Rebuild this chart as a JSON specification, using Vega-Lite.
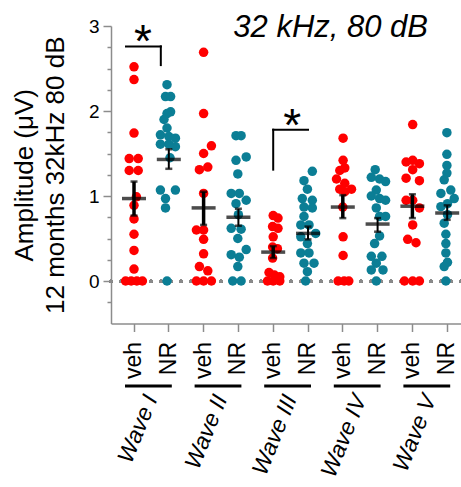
{
  "$schema": "https://vega.github.io/schema/vega-lite/v6.json",
  "width": 350,
  "height": 297.5,
  "autosize": "none",
  "padding": {"left": 111, "top": 26, "right": 0, "bottom": 163.5},
  "background": "white",
  "config": {"view": {"stroke": null}, "font": "Liberation Sans"},
  "title": {"text": "32 kHz, 80 dB", "font": "Liberation Sans", "fontStyle": "italic", "fontWeight": "normal", "fontSize": 31, "color": "black", "anchor": "end", "frame": "group", "baseline": "alphabetic", "offset": -51, "dx": -33},
  "datasets": {
    "dots": [
      {"col": "I-veh", "grp": "veh", "v": 2.52, "dx": 0},
      {"col": "I-veh", "grp": "veh", "v": 2.37, "dx": 0},
      {"col": "I-veh", "grp": "veh", "v": 1.74, "dx": 0},
      {"col": "I-veh", "grp": "veh", "v": 1.44, "dx": -0.8},
      {"col": "I-veh", "grp": "veh", "v": 1.44, "dx": 0.7},
      {"col": "I-veh", "grp": "veh", "v": 1.3, "dx": -0.8},
      {"col": "I-veh", "grp": "veh", "v": 1.3, "dx": 0.7},
      {"col": "I-veh", "grp": "veh", "v": 0.99, "dx": 0.4},
      {"col": "I-veh", "grp": "veh", "v": 0.89, "dx": 0},
      {"col": "I-veh", "grp": "veh", "v": 0.73, "dx": 0},
      {"col": "I-veh", "grp": "veh", "v": 0.55, "dx": 0},
      {"col": "I-veh", "grp": "veh", "v": 0.36, "dx": 0},
      {"col": "I-veh", "grp": "veh", "v": 0.14, "dx": 0},
      {"col": "I-veh", "grp": "veh", "v": 0, "dx": -1.4},
      {"col": "I-veh", "grp": "veh", "v": 0, "dx": -0.47},
      {"col": "I-veh", "grp": "veh", "v": 0, "dx": 0.47},
      {"col": "I-veh", "grp": "veh", "v": 0, "dx": 1.4},
      {"col": "I-NR", "grp": "NR", "v": 2.31, "dx": -0.3},
      {"col": "I-NR", "grp": "NR", "v": 2.17, "dx": -0.55},
      {"col": "I-NR", "grp": "NR", "v": 2.17, "dx": 0.3},
      {"col": "I-NR", "grp": "NR", "v": 1.99, "dx": 0.3},
      {"col": "I-NR", "grp": "NR", "v": 1.97, "dx": -0.3},
      {"col": "I-NR", "grp": "NR", "v": 1.9, "dx": -0.8},
      {"col": "I-NR", "grp": "NR", "v": 1.8, "dx": -0.3},
      {"col": "I-NR", "grp": "NR", "v": 1.72, "dx": -1.4},
      {"col": "I-NR", "grp": "NR", "v": 1.7, "dx": 0},
      {"col": "I-NR", "grp": "NR", "v": 1.68, "dx": 1.1},
      {"col": "I-NR", "grp": "NR", "v": 1.61, "dx": -1.4},
      {"col": "I-NR", "grp": "NR", "v": 1.61, "dx": 0},
      {"col": "I-NR", "grp": "NR", "v": 1.58, "dx": 1.1},
      {"col": "I-NR", "grp": "NR", "v": 1.45, "dx": 0.2},
      {"col": "I-NR", "grp": "NR", "v": 1.07, "dx": -1.4},
      {"col": "I-NR", "grp": "NR", "v": 1.07, "dx": 1.1},
      {"col": "I-NR", "grp": "NR", "v": 0.97, "dx": -0.55},
      {"col": "I-NR", "grp": "NR", "v": 0.86, "dx": -0.55},
      {"col": "I-NR", "grp": "NR", "v": 0, "dx": -0.3},
      {"col": "II-veh", "grp": "veh", "v": 2.69, "dx": 0},
      {"col": "II-veh", "grp": "veh", "v": 1.97, "dx": 0},
      {"col": "II-veh", "grp": "veh", "v": 1.59, "dx": 1.3},
      {"col": "II-veh", "grp": "veh", "v": 1.5, "dx": 0},
      {"col": "II-veh", "grp": "veh", "v": 1.34, "dx": 0.7},
      {"col": "II-veh", "grp": "veh", "v": 1.31, "dx": -0.7},
      {"col": "II-veh", "grp": "veh", "v": 1.03, "dx": 0},
      {"col": "II-veh", "grp": "veh", "v": 0.6, "dx": -1.2},
      {"col": "II-veh", "grp": "veh", "v": 0.6, "dx": 0},
      {"col": "II-veh", "grp": "veh", "v": 0.49, "dx": 0},
      {"col": "II-veh", "grp": "veh", "v": 0.32, "dx": 0},
      {"col": "II-veh", "grp": "veh", "v": 0.17, "dx": -0.7},
      {"col": "II-veh", "grp": "veh", "v": 0.12, "dx": 0.7},
      {"col": "II-veh", "grp": "veh", "v": 0, "dx": -1.2},
      {"col": "II-veh", "grp": "veh", "v": 0, "dx": 0},
      {"col": "II-veh", "grp": "veh", "v": 0, "dx": 1.3},
      {"col": "II-NR", "grp": "NR", "v": 1.71, "dx": -0.4},
      {"col": "II-NR", "grp": "NR", "v": 1.71, "dx": 0.45},
      {"col": "II-NR", "grp": "NR", "v": 1.46, "dx": 1.3},
      {"col": "II-NR", "grp": "NR", "v": 1.42, "dx": -0.4},
      {"col": "II-NR", "grp": "NR", "v": 1.26, "dx": -0.1},
      {"col": "II-NR", "grp": "NR", "v": 1.03, "dx": -1.2},
      {"col": "II-NR", "grp": "NR", "v": 1.03, "dx": 0.15},
      {"col": "II-NR", "grp": "NR", "v": 0.95, "dx": 1.3},
      {"col": "II-NR", "grp": "NR", "v": 0.91, "dx": -0.4},
      {"col": "II-NR", "grp": "NR", "v": 0.78, "dx": 0},
      {"col": "II-NR", "grp": "NR", "v": 0.62, "dx": -1.2},
      {"col": "II-NR", "grp": "NR", "v": 0.61, "dx": 0.45},
      {"col": "II-NR", "grp": "NR", "v": 0.5, "dx": -0.1},
      {"col": "II-NR", "grp": "NR", "v": 0.37, "dx": 1.3},
      {"col": "II-NR", "grp": "NR", "v": 0.31, "dx": -1.2},
      {"col": "II-NR", "grp": "NR", "v": 0.28, "dx": 0.15},
      {"col": "II-NR", "grp": "NR", "v": 0.17, "dx": -0.1},
      {"col": "II-NR", "grp": "NR", "v": 0, "dx": -0.95},
      {"col": "II-NR", "grp": "NR", "v": 0, "dx": 0.45},
      {"col": "III-veh", "grp": "veh", "v": 0.77, "dx": 0},
      {"col": "III-veh", "grp": "veh", "v": 0.74, "dx": 0.8},
      {"col": "III-veh", "grp": "veh", "v": 0.64, "dx": -0.1},
      {"col": "III-veh", "grp": "veh", "v": 0.62, "dx": 0.8},
      {"col": "III-veh", "grp": "veh", "v": 0.52, "dx": 0},
      {"col": "III-veh", "grp": "veh", "v": 0.4, "dx": -0.1},
      {"col": "III-veh", "grp": "veh", "v": 0.38, "dx": 0.7},
      {"col": "III-veh", "grp": "veh", "v": 0.27, "dx": -0.1},
      {"col": "III-veh", "grp": "veh", "v": 0.1, "dx": -0.7},
      {"col": "III-veh", "grp": "veh", "v": 0.07, "dx": 0.2},
      {"col": "III-veh", "grp": "veh", "v": 0.05, "dx": 1.1},
      {"col": "III-veh", "grp": "veh", "v": 0, "dx": -0.95},
      {"col": "III-veh", "grp": "veh", "v": 0, "dx": 0},
      {"col": "III-veh", "grp": "veh", "v": 0, "dx": 1.1},
      {"col": "III-NR", "grp": "NR", "v": 1.29, "dx": 0.72},
      {"col": "III-NR", "grp": "NR", "v": 1.18, "dx": -0.67},
      {"col": "III-NR", "grp": "NR", "v": 1.08, "dx": -0.1},
      {"col": "III-NR", "grp": "NR", "v": 0.97, "dx": -0.95},
      {"col": "III-NR", "grp": "NR", "v": 0.95, "dx": 0.72},
      {"col": "III-NR", "grp": "NR", "v": 0.87, "dx": -0.67},
      {"col": "III-NR", "grp": "NR", "v": 0.86, "dx": 0.72},
      {"col": "III-NR", "grp": "NR", "v": 0.76, "dx": -0.67},
      {"col": "III-NR", "grp": "NR", "v": 0.66, "dx": -1.2},
      {"col": "III-NR", "grp": "NR", "v": 0.66, "dx": 0.17},
      {"col": "III-NR", "grp": "NR", "v": 0.56, "dx": 1.28},
      {"col": "III-NR", "grp": "NR", "v": 0.52, "dx": -1.2},
      {"col": "III-NR", "grp": "NR", "v": 0.44, "dx": -0.1},
      {"col": "III-NR", "grp": "NR", "v": 0.33, "dx": -1.2},
      {"col": "III-NR", "grp": "NR", "v": 0.33, "dx": 0.17},
      {"col": "III-NR", "grp": "NR", "v": 0.21, "dx": -0.67},
      {"col": "III-NR", "grp": "NR", "v": 0.21, "dx": 1.0},
      {"col": "III-NR", "grp": "NR", "v": 0.11, "dx": -0.1},
      {"col": "III-NR", "grp": "NR", "v": 0, "dx": -0.4},
      {"col": "IV-veh", "grp": "veh", "v": 1.68, "dx": 0.05},
      {"col": "IV-veh", "grp": "veh", "v": 1.42, "dx": 0.05},
      {"col": "IV-veh", "grp": "veh", "v": 1.33, "dx": 0.33},
      {"col": "IV-veh", "grp": "veh", "v": 1.3, "dx": -0.5},
      {"col": "IV-veh", "grp": "veh", "v": 1.2, "dx": -1.05},
      {"col": "IV-veh", "grp": "veh", "v": 1.15, "dx": 0.33},
      {"col": "IV-veh", "grp": "veh", "v": 1.08, "dx": 1.45},
      {"col": "IV-veh", "grp": "veh", "v": 1.08, "dx": -0.5},
      {"col": "IV-veh", "grp": "veh", "v": 1.05, "dx": 0.33},
      {"col": "IV-veh", "grp": "veh", "v": 0.87, "dx": 0},
      {"col": "IV-veh", "grp": "veh", "v": 0.52, "dx": 0.05},
      {"col": "IV-veh", "grp": "veh", "v": 0.3, "dx": 0.05},
      {"col": "IV-veh", "grp": "veh", "v": 0, "dx": -0.78},
      {"col": "IV-veh", "grp": "veh", "v": 0, "dx": 0.22},
      {"col": "IV-veh", "grp": "veh", "v": 0, "dx": 1.0},
      {"col": "IV-NR", "grp": "NR", "v": 1.31, "dx": -0.4},
      {"col": "IV-NR", "grp": "NR", "v": 1.22, "dx": -1.05},
      {"col": "IV-NR", "grp": "NR", "v": 1.2, "dx": 0.33},
      {"col": "IV-NR", "grp": "NR", "v": 1.17, "dx": 1.33},
      {"col": "IV-NR", "grp": "NR", "v": 1.07, "dx": -0.22},
      {"col": "IV-NR", "grp": "NR", "v": 1.0, "dx": -1.05},
      {"col": "IV-NR", "grp": "NR", "v": 0.97, "dx": 0.33},
      {"col": "IV-NR", "grp": "NR", "v": 0.95, "dx": 1.33},
      {"col": "IV-NR", "grp": "NR", "v": 0.86, "dx": -0.22},
      {"col": "IV-NR", "grp": "NR", "v": 0.76, "dx": 0.33},
      {"col": "IV-NR", "grp": "NR", "v": 0.76, "dx": 1.33},
      {"col": "IV-NR", "grp": "NR", "v": 0.53, "dx": 0.33},
      {"col": "IV-NR", "grp": "NR", "v": 0.44, "dx": -0.5},
      {"col": "IV-NR", "grp": "NR", "v": 0.29, "dx": -1.05},
      {"col": "IV-NR", "grp": "NR", "v": 0.29, "dx": 0.72},
      {"col": "IV-NR", "grp": "NR", "v": 0.21, "dx": -0.22},
      {"col": "IV-NR", "grp": "NR", "v": 0.13, "dx": -1.05},
      {"col": "IV-NR", "grp": "NR", "v": 0.13, "dx": 0.9},
      {"col": "IV-NR", "grp": "NR", "v": 0, "dx": -0.22},
      {"col": "V-veh", "grp": "veh", "v": 1.84, "dx": 0.05},
      {"col": "V-veh", "grp": "veh", "v": 1.42, "dx": 0.05},
      {"col": "V-veh", "grp": "veh", "v": 1.4, "dx": -1.05},
      {"col": "V-veh", "grp": "veh", "v": 1.38, "dx": 1.17},
      {"col": "V-veh", "grp": "veh", "v": 1.31, "dx": 0.05},
      {"col": "V-veh", "grp": "veh", "v": 1.21, "dx": -1.05},
      {"col": "V-veh", "grp": "veh", "v": 1.18, "dx": 1.17},
      {"col": "V-veh", "grp": "veh", "v": 0.95, "dx": -1.05},
      {"col": "V-veh", "grp": "veh", "v": 0.95, "dx": 0.05},
      {"col": "V-veh", "grp": "veh", "v": 0.86, "dx": 1.17},
      {"col": "V-veh", "grp": "veh", "v": 0.66, "dx": 0.05},
      {"col": "V-veh", "grp": "veh", "v": 0.49, "dx": -0.78},
      {"col": "V-veh", "grp": "veh", "v": 0.45, "dx": 0.6},
      {"col": "V-veh", "grp": "veh", "v": 0, "dx": -1.33},
      {"col": "V-veh", "grp": "veh", "v": 0, "dx": 0.05},
      {"col": "V-veh", "grp": "veh", "v": 0, "dx": 1.17},
      {"col": "V-NR", "grp": "NR", "v": 1.745, "dx": -0.05},
      {"col": "V-NR", "grp": "NR", "v": 1.49, "dx": -0.05},
      {"col": "V-NR", "grp": "NR", "v": 1.36, "dx": -0.05},
      {"col": "V-NR", "grp": "NR", "v": 1.27, "dx": -0.05},
      {"col": "V-NR", "grp": "NR", "v": 1.19, "dx": -0.5},
      {"col": "V-NR", "grp": "NR", "v": 1.07, "dx": 0.6},
      {"col": "V-NR", "grp": "NR", "v": 1.03, "dx": -1.05},
      {"col": "V-NR", "grp": "NR", "v": 0.97, "dx": 1.17},
      {"col": "V-NR", "grp": "NR", "v": 0.91, "dx": 0.05},
      {"col": "V-NR", "grp": "NR", "v": 0.875, "dx": -1.05},
      {"col": "V-NR", "grp": "NR", "v": 0.78, "dx": 0.05},
      {"col": "V-NR", "grp": "NR", "v": 0.68, "dx": -0.5},
      {"col": "V-NR", "grp": "NR", "v": 0.55, "dx": -0.22},
      {"col": "V-NR", "grp": "NR", "v": 0.44, "dx": -0.22},
      {"col": "V-NR", "grp": "NR", "v": 0.33, "dx": -0.22},
      {"col": "V-NR", "grp": "NR", "v": 0.22, "dx": 0.05},
      {"col": "V-NR", "grp": "NR", "v": 0.17, "dx": -0.5},
      {"col": "V-NR", "grp": "NR", "v": 0, "dx": -0.22}
    ],
    "summary": [
      {"col": "I-veh", "grp": "veh", "mean": 0.97, "lo": 0.77, "hi": 1.17},
      {"col": "I-NR", "grp": "NR", "mean": 1.43, "lo": 1.32, "hi": 1.55},
      {"col": "II-veh", "grp": "veh", "mean": 0.86, "lo": 0.66, "hi": 1.05},
      {"col": "II-NR", "grp": "NR", "mean": 0.75, "lo": 0.65, "hi": 0.85},
      {"col": "III-veh", "grp": "veh", "mean": 0.34, "lo": 0.27, "hi": 0.41},
      {"col": "III-NR", "grp": "NR", "mean": 0.56, "lo": 0.49, "hi": 0.64},
      {"col": "IV-veh", "grp": "veh", "mean": 0.87, "lo": 0.74, "hi": 1.01},
      {"col": "IV-NR", "grp": "NR", "mean": 0.67, "lo": 0.58, "hi": 0.74},
      {"col": "V-veh", "grp": "veh", "mean": 0.88, "lo": 0.74, "hi": 1.02},
      {"col": "V-NR", "grp": "NR", "mean": 0.8, "lo": 0.72, "hi": 0.89}
    ],
    "waves": [
      {"wave": "I", "a": "I-veh", "b": "I-NR"},
      {"wave": "II", "a": "II-veh", "b": "II-NR"},
      {"wave": "III", "a": "III-veh", "b": "III-NR"},
      {"wave": "IV", "a": "IV-veh", "b": "IV-NR"},
      {"wave": "V", "a": "V-veh", "b": "V-NR"}
    ],
    "sigI": [
      {"a": "I-veh", "b": "I-NR", "y1": 2.76, "y2": 2.76},
      {"a": "I-NR", "b": "I-NR", "y1": 2.76, "y2": 2.54}
    ],
    "sigIII": [
      {"a": "III-veh", "b": "III-NR", "y1": 1.78, "y2": 1.78},
      {"a": "III-veh", "b": "III-veh", "y1": 1.78, "y2": 1.31}
    ]
  },
  "layer": [
    {
      "layer": [
        {
          "data": {"name": "dots"},
          "mark": {"type": "rule", "stroke": "#8a8a8a", "strokeWidth": 3, "strokeDash": [0.1, 9.9], "strokeCap": "round"},
          "encoding": {"y": {"datum": 0, "type": "quantitative", "scale": {"domain": [-0.5, 3], "nice": false, "zero": false}}}
        },
        {
          "data": {"name": "dots"},
          "mark": {"type": "circle", "size": 90, "opacity": 1},
          "encoding": {
            "x": {"field": "col", "type": "nominal", "sort": null,
              "scale": {"type": "band", "domain": ["I-veh", "I-NR", "II-veh", "II-NR", "III-veh", "III-NR", "IV-veh", "IV-NR", "V-veh", "V-NR"], "paddingInner": 0.5, "paddingOuter": 0.279, "align": 0.737},
              "axis": {"title": null, "labelExpr": "split(datum.value, '-')[1]", "labelAngle": -90, "labelFontSize": 23, "labelColor": "black", "labelPadding": 10, "labelOverlap": false, "tickSize": 8, "tickColor": "#8c8c8c", "tickWidth": 1.5, "domainColor": "#8c8c8c", "domainWidth": 1.5, "labelFont": "Liberation Sans"}},
            "xOffset": {"field": "dx", "type": "quantitative", "scale": {"domain": [-1.45, 1.45]}},
            "y": {"field": "v", "type": "quantitative", "scale": {"domain": [-0.5, 3], "nice": false, "zero": false},
              "axis": {"title": ["Amplitude (μV)", "12 months 32kHz 80 dB"], "values": [0, 1, 2, 3], "format": "d", "tickSize": 8, "tickColor": "#8c8c8c", "tickWidth": 1.5, "domainColor": "#8c8c8c", "domainWidth": 1.5, "labelFontSize": 19, "labelColor": "black", "labelPadding": 4, "labelFont": "Liberation Sans", "titleFont": "Liberation Sans", "titleFontSize": 26, "titleFontWeight": "normal", "titleColor": "black", "titlePadding": 20, "titleLineHeight": 31, "grid": false}},
            "color": {"field": "grp", "type": "nominal", "scale": {"domain": ["veh", "NR"], "range": ["#ff0000", "#0b7e95"]}, "legend": null}
          }
        },
        {
          "data": {"name": "summary"},
          "mark": {"type": "rule", "color": "black"},
          "encoding": {
            "x": {"field": "col", "type": "nominal"},
            "y": {"field": "lo", "type": "quantitative"},
            "y2": {"field": "hi"},
            "strokeWidth": {"field": "grp", "type": "nominal", "scale": {"domain": ["veh", "NR"], "range": [3.5, 2]}, "legend": null}
          }
        },
        {
          "data": {"name": "summary"},
          "mark": {"type": "tick", "color": "black", "size": 7, "thickness": 2.5},
          "encoding": {"x": {"field": "col", "type": "nominal"}, "y": {"field": "lo", "type": "quantitative"}}
        },
        {
          "data": {"name": "summary"},
          "mark": {"type": "tick", "color": "black", "size": 7, "thickness": 2.5},
          "encoding": {"x": {"field": "col", "type": "nominal"}, "y": {"field": "hi", "type": "quantitative"}}
        },
        {
          "data": {"name": "summary"},
          "mark": {"type": "tick", "color": "black", "size": 24, "thickness": 3.5},
          "encoding": {"x": {"field": "col", "type": "nominal"}, "y": {"field": "mean", "type": "quantitative"}}
        },
        {
          "data": {"name": "sigI"},
          "mark": {"type": "rule", "color": "black", "strokeWidth": 2, "strokeCap": "square", "xOffset": -8, "x2Offset": -8},
          "encoding": {"x": {"field": "a", "type": "nominal"}, "x2": {"field": "b"}, "y": {"field": "y1", "type": "quantitative"}, "y2": {"field": "y2"}}
        },
        {
          "data": {"name": "sigIII"},
          "mark": {"type": "rule", "color": "black", "strokeWidth": 2, "strokeCap": "square"},
          "encoding": {"x": {"field": "a", "type": "nominal"}, "x2": {"field": "b"}, "y": {"field": "y1", "type": "quantitative"}, "y2": {"field": "y2"}}
        },
        {
          "data": {"values": [{"s": "*"}]},
          "mark": {"type": "text", "fontSize": 46, "font": "Liberation Sans", "color": "black", "baseline": "alphabetic", "align": "center", "dx": 9},
          "encoding": {"x": {"datum": "I-veh"}, "y": {"datum": 2.63}, "text": {"field": "s"}}
        },
        {
          "data": {"values": [{"s": "*"}]},
          "mark": {"type": "text", "fontSize": 46, "font": "Liberation Sans", "color": "black", "baseline": "alphabetic", "align": "center", "dx": 19},
          "encoding": {"x": {"datum": "III-veh"}, "y": {"datum": 1.65}, "text": {"field": "s"}}
        },
        {
          "data": {"name": "waves"},
          "mark": {"type": "rule", "color": "black", "strokeWidth": 3, "xOffset": -9, "x2Offset": 3},
          "encoding": {"x": {"field": "a", "type": "nominal"}, "x2": {"field": "b"}, "y": {"datum": -1.235}}
        }
      ]
    },
    {
      "data": {"name": "waves"},
      "mark": {"type": "point", "opacity": 0},
      "encoding": {
        "x": {"field": "wave", "type": "nominal", "sort": null,
          "scale": {"type": "band", "domain": ["I", "II", "III", "IV", "V"], "paddingInner": 0.5, "paddingOuter": 0.264, "align": 0.628},
          "axis": {"orient": "bottom", "title": null, "labelExpr": "'Wave ' + datum.value", "labelAngle": -68, "labelFontStyle": "italic", "labelFontSize": 23, "labelColor": "black", "labelFont": "Liberation Sans", "labelPadding": 72, "ticks": false, "tickSize": 0, "domain": false, "labelOverlap": false}},
        "y": {"datum": 0, "type": "quantitative", "scale": {"domain": [-0.5, 3], "nice": false, "zero": false},
          "axis": {"orient": "left", "title": null, "labels": false, "domain": false, "grid": false, "values": [-0.25, 0.25, 0.5, 0.75, 1.25, 1.5, 1.75, 2.25, 2.5, 2.75], "tickSize": 4, "tickColor": "#8c8c8c", "tickWidth": 1.5}}
      }
    }
  ],
  "resolve": {"scale": {"x": "independent"}, "axis": {"y": "independent"}}
}
